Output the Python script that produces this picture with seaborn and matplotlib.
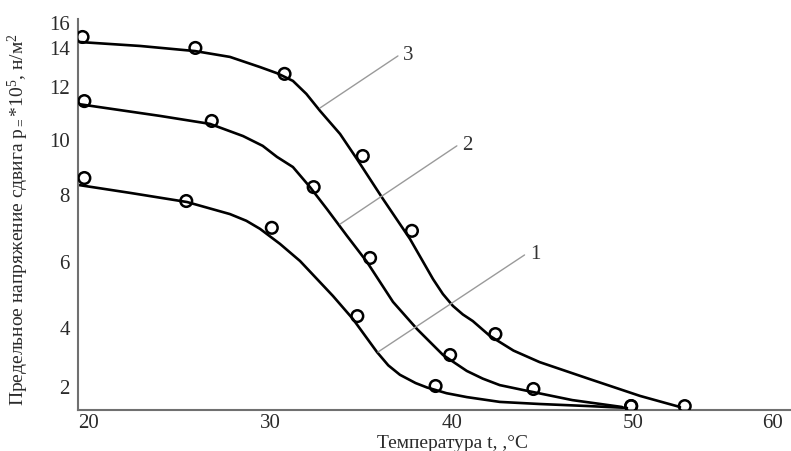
import numpy as np
import pandas as pd
import matplotlib
matplotlib.use("Agg")
import matplotlib.pyplot as plt
import seaborn as sns

# измеренные точки (кружки)
t3_pts = [19.7, 25.9, 30.8, 35.1, 37.8, 42.4, 53.7]
p3_pts = [14.79, 13.95, 12.62, 9.38, 6.90, 3.76, 1.33]
t2_pts = [19.8, 26.8, 32.4, 35.5, 39.9, 44.5, 49.9]
p2_pts = [11.43, 10.68, 8.25, 6.09, 3.05, 1.90, 1.33]
t1_pts = [19.8, 25.4, 30.1, 34.8, 39.1, 49.9]
p1_pts = [8.58, 7.79, 6.99, 4.33, 2.00, 1.33]

# сглаженные кривые
t3_line = [19.45, 22.86, 25.88, 27.80, 29.45, 30.4, 31.26, 32.0, 32.75, 33.85, 34.78, 36.21,
           37.69, 38.96, 39.5, 40.05, 40.6, 41.15, 42.09, 43.4, 44.84, 47.58, 50.5, 53.36]
p3_line = [14.40, 14.08, 13.79, 13.49, 12.97, 12.65, 12.26, 11.70, 11.06, 10.19, 9.27, 7.85,
           6.66, 5.45, 5.0, 4.64, 4.38, 4.18, 3.70, 3.20, 2.81, 2.24, 1.67, 1.30]
t2_line = [19.45, 23.96, 26.70, 28.52, 29.6, 30.38, 31.26, 32.20, 33.13, 34.23, 35.33,
           36.76, 38.08, 39.51, 40.82, 41.7, 42.64, 43.90, 46.65, 49.40]
p2_line = [11.32, 10.87, 10.57, 10.11, 9.75, 9.35, 8.98, 8.25, 7.55, 6.75, 5.97,
           4.76, 3.93, 3.05, 2.51, 2.25, 2.03, 1.87, 1.53, 1.30]
t1_line = [19.45, 22.31, 25.44, 27.80, 28.7, 29.45, 30.55, 31.65, 33.46, 34.56, 35.88,
           36.5, 37.14, 38.0, 38.63, 39.7, 40.82, 42.64, 44.84, 47.58, 49.67]
p1_line = [8.33, 8.04, 7.76, 7.40, 7.20, 6.96, 6.51, 6.00, 4.94, 4.24, 3.15,
           2.70, 2.38, 2.10, 1.95, 1.76, 1.63, 1.47, 1.40, 1.33, 1.27]

x_ticks = [20, 30, 40, 50, 60]
y_ticks = [2, 4, 6, 8, 10, 12, 14, 16]

# неравномерные шкалы исходного рисунка
x_knots = [19, 20, 30, 40, 50, 60, 62]
x_pos = [69.8, 88, 270, 452, 633, 773, 801]
y_knots = [1.0, 1.2, 2, 4, 6, 8, 10, 12, 14, 16, 17]
y_pos = [-6, 0, 24, 83, 149, 216, 271, 324, 363, 388.3, 401]

lines = pd.concat([
    pd.DataFrame({"t": t1_line, "p": p1_line, "curve": "1"}),
    pd.DataFrame({"t": t2_line, "p": p2_line, "curve": "2"}),
    pd.DataFrame({"t": t3_line, "p": p3_line, "curve": "3"}),
])
points = pd.concat([
    pd.DataFrame({"t": t1_pts, "p": p1_pts, "curve": "1"}),
    pd.DataFrame({"t": t2_pts, "p": p2_pts, "curve": "2"}),
    pd.DataFrame({"t": t3_pts, "p": p3_pts, "curve": "3"}),
])

sns.set_style("white")
plt.rcParams["font.family"] = ["Liberation Serif", "DejaVu Serif"]
plt.rcParams["mathtext.fontset"] = "custom"
plt.rcParams["mathtext.rm"] = "Liberation Serif"
plt.rcParams["mathtext.it"] = "Liberation Serif:italic"

fig = plt.figure(figsize=(7.91, 4.52), dpi=100)
ax = fig.add_axes([78 / 791, 41 / 452, 713 / 791, 391 / 452])

ax.set_xscale("function", functions=(lambda v: np.interp(v, x_knots, x_pos),
                                     lambda v: np.interp(v, x_pos, x_knots)))
ax.set_yscale("function", functions=(lambda v: np.interp(v, y_knots, y_pos),
                                     lambda v: np.interp(v, y_pos, y_knots)))

sns.lineplot(data=lines, x="t", y="p", units="curve", estimator=None, sort=False,
             color="black", lw=1.9, ax=ax)
sns.scatterplot(data=points, x="t", y="p", marker="o", s=70, facecolor="none",
                edgecolor="black", linewidth=1.8, ax=ax, zorder=3)

# выноски с номерами кривых
leaders = [("1", (35.93, 3.15), (44.01, 6.18)),
           ("2", (33.85, 7.10), (40.27, 9.75)),
           ("3", (32.75, 11.17), (37.03, 13.54))]
for lab, a, b in leaders:
    ax.plot([a[0], b[0]], [a[1], b[1]], color="#9a9a9a", lw=1.0)
    ax.text(b[0] + 0.3, b[1] + 0.05, lab, fontsize=15, color="#333333",
            ha="left", va="center")

ax.set_xlim(19.45, 61.29)
ax.set_ylim(1.2, 16.21)
ax.set_xticks(x_ticks)
ax.set_yticks(y_ticks)
ax.tick_params(axis="y", direction="in", length=15, width=1.5, color="#8a8a8a",
               labelsize=15, labelcolor="#2a2a2a", pad=6)
ax.tick_params(axis="x", length=0, labelsize=15, labelcolor="#2a2a2a", pad=2)

for s in ["top", "right"]:
    ax.spines[s].set_visible(False)
for s in ["left", "bottom"]:
    ax.spines[s].set_color("#707070")
    ax.spines[s].set_linewidth(1.5)

ax.set_xlabel("Температура t, ,°C", fontsize=14, color="#2a2a2a")
ax.xaxis.set_label_coords(0.525, -0.062)
ax.set_ylabel("Предельное напряжение сдвига р$_=$*10$^5$, н/м$^2$",
              fontsize=14, color="#2a2a2a")
ax.yaxis.set_label_coords(-0.066, 0.49)

fig.savefig("out.png", dpi=100)
